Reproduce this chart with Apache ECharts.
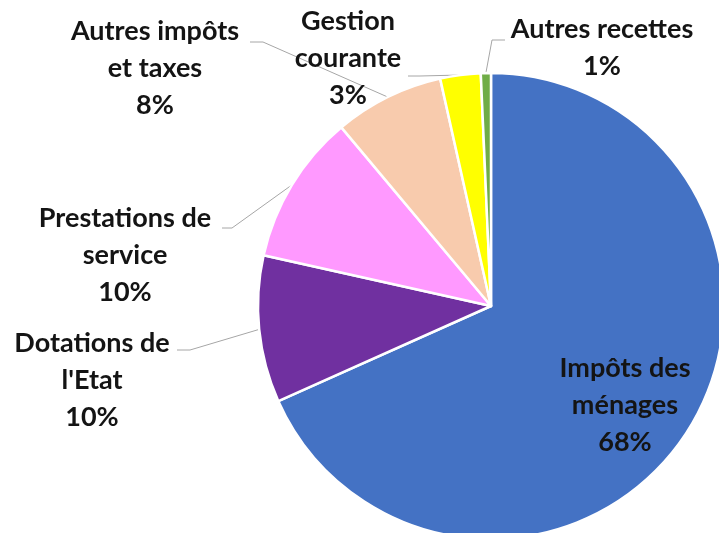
<!DOCTYPE html>
<html>
<head>
    <meta charset="utf-8">
    <script src="https://cdn.jsdelivr.net/npm/echarts@6/dist/echarts.min.js"></script>
</head>
<body style="margin:0">
<div id="main" style="width:719px;height:533px"></div>
<script type="text/javascript">
    // recettes de fonctionnement, part de chaque poste
    var categories = ['Impôts des\nménages', 'Dotations de\nl\'Etat', 'Prestations de\nservice',
        'Autres impôts\net taxes', 'Gestion\ncourante', 'Autres recettes'];
    var values = [68.3, 10.2, 10.4, 7.6, 2.8, 0.7];
    var colors = ['#4472C4', '#7030A0', '#FF99FF', '#F8CBAD', '#FFFF00', '#70AD47'];

    // where each label sits, and the bend/end of its leader line
    var labelSpots = [
        {c: [625, 405]},
        {c: [92, 380], line: [[190, 350], [177, 350]]},
        {c: [125, 255], line: [[232, 228], [222, 228]]},
        {c: [155, 68], line: [[263, 42], [250, 42]]},
        {c: [348, 58], line: [[420, 76], [408, 76]]},
        {c: [602, 48], line: [[492, 40], [505, 40]]}
    ];

    var myChart = echarts.init(document.getElementById('main'));

    option = {
        animation: false,
        series: [{
            type: 'pie',
            center: [491, 306],
            radius: 233,
            startAngle: 90,
            avoidLabelOverlap: false,
            itemStyle: {
                borderColor: '#fff',
                borderWidth: 2.5
            },
            label: {
                show: true,
                position: 'outside',
                fontFamily: 'Lato',
                fontWeight: 'bold',
                fontSize: 27,
                lineHeight: 37,
                color: '#141414',
                align: 'center',
                formatter: function (p) {
                    return p.name + '\n' + Math.round(p.percent) + '%';
                }
            },
            labelLine: {
                show: true,
                lineStyle: {color: '#a6a6a6', width: 1}
            },
            labelLayout: function (params) {
                var s = labelSpots[params.dataIndex];
                var out = {x: s.c[0], y: s.c[1], align: 'center', verticalAlign: 'middle'};
                if (s.line && params.labelLinePoints) {
                    out.labelLinePoints = [params.labelLinePoints[0], s.line[0], s.line[1]];
                }
                return out;
            },
            data: values.map(function (v, i) {
                var d = {name: categories[i], value: v, itemStyle: {color: colors[i]}};
                if (i === 0) {
                    d.labelLine = {show: false};
                }
                return d;
            })
        }]
    };

    myChart.setOption(option);
</script>
</body>
</html>
